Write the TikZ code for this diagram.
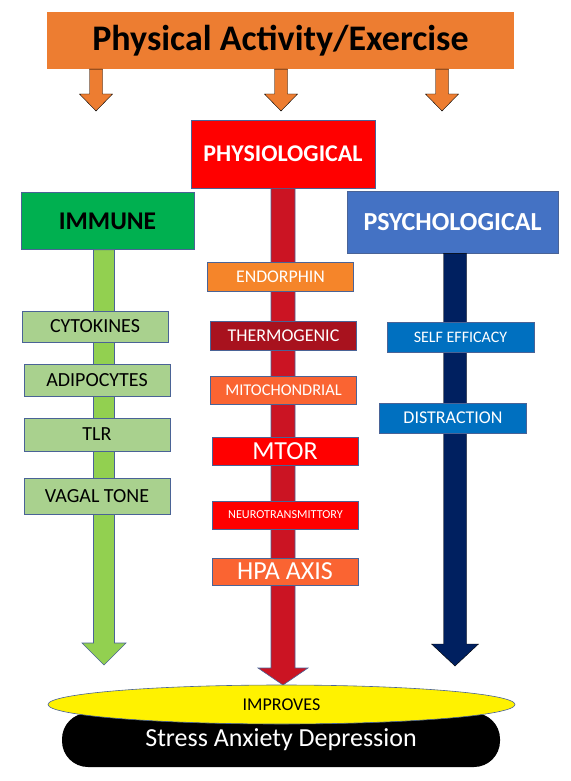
\documentclass[tikz,border=0pt]{standalone}
\usepackage{fontspec}
\setmainfont{Carlito}
\usepackage{tikz}
\usetikzlibrary{shapes.geometric,calc,positioning}
\usepackage{xcolor}
\definecolor{actOrange}{HTML}{ED7D31}
\definecolor{physRed}{HTML}{FF0000}
\definecolor{immGreen}{HTML}{00B050}
\definecolor{psyBlue}{HTML}{4472C4}
\definecolor{itemGreen}{HTML}{A9D18E}
\definecolor{shaftGreen}{HTML}{92D050}
\definecolor{shaftRed}{HTML}{CB1423}
\definecolor{shaftNavy}{HTML}{002060}
\definecolor{endoOrange}{HTML}{F5852A}
\definecolor{thermoRed}{HTML}{A8121E}
\definecolor{mitoOrange}{HTML}{FA6432}
\definecolor{selfBlue}{HTML}{0070C0}
\definecolor{boxEdge}{HTML}{4A6396}
\tikzstyle{header}=[draw=boxEdge, line width=0.8pt, inner sep=0pt]
\tikzstyle{item}=[draw=boxEdge, line width=0.8pt, inner sep=0pt, minimum width=146pt]
\tikzstyle{immitem}=[item, fill=itemGreen, text=black, font=\fontsize{20}{24}\selectfont]
\tikzstyle{physitem}=[item, text=white]
\tikzstyle{psyitem}=[item, fill=selfBlue, text=white, minimum width=147pt, minimum height=30pt]
\newcommand{\blockArrow}[6]{
	\draw[#1] ($(#3 |- #2)+(-#4,0)$) -- ($(#3)+(-#4,-#6)$) -- ($(#3)+(-#5,-#6)$) -- (#3)
		-- ($(#3)+(#5,-#6)$) -- ($(#3)+(#4,-#6)$) -- ($(#3 |- #2)+(#4,0)$) -- cycle;
}

\begin{document}
\begin{tikzpicture}[x=1pt, y=-1pt]
	\useasboundingbox (0,0) rectangle (570,781);
%
	\node[fill=actOrange, inner sep=0pt, minimum width=467pt, minimum height=57pt, font=\bfseries\fontsize{36}{42}\selectfont] (pa) at (280.5,40.5) {Physical Activity/Exercise};
	\coordinate (paL) at (96,111);
	\coordinate (paM) at (281,111);
	\coordinate (paR) at (442,111);
	\blockArrow{fill=actOrange}{pa.south}{paL}{6.5}{16.5}{17}
	\blockArrow{fill=actOrange}{pa.south}{paM}{6.5}{16.5}{17}
	\blockArrow{fill=actOrange}{pa.south}{paR}{6.5}{16.5}{17}
%
	\node[header, fill=physRed, text=white, minimum width=184pt, minimum height=68pt, font=\bfseries\fontsize{24}{28}\selectfont] (phys) at (283,154) {PHYSIOLOGICAL};
	\node[header, fill=immGreen, text=black, minimum width=173pt, minimum height=57pt, font=\bfseries\fontsize{25.5}{30}\selectfont] (immune) at (107.5,221) {IMMUNE};
	\node[header, fill=psyBlue, text=white, minimum width=211pt, minimum height=62pt, font=\bfseries\fontsize{26}{30}\selectfont] (psych) at (452.5,222) {PSYCHOLOGICAL};
%
	\coordinate (immtip) at (104,665);
	\coordinate (phystip) at (283,685);
	\coordinate (psytip) at (455,666);
	\blockArrow{fill=shaftGreen, draw=boxEdge, line width=0.6pt}{immune.south}{immtip}{10.5}{22}{22}
	\blockArrow{fill=shaftRed, draw=boxEdge, line width=0.6pt}{phys.south}{phystip}{12}{25}{17}
	\blockArrow{fill=shaftNavy}{psych.south}{psytip}{11.5}{23.5}{22}
%
	\node[immitem, minimum height=31pt] (cyto) at (95,326.5) {CYTOKINES};
	\node[immitem, minimum height=32pt] (adipo) at (97,380) {ADIPOCYTES};
	\node[immitem, minimum height=33pt] (tlr) at (97,434.5) {TLR};
	\node[immitem, minimum height=36pt] (vagal) at (97,496.5) {VAGAL TONE};
%
	\node[physitem, fill=endoOrange, minimum height=29pt, font=\fontsize{17.8}{21}\selectfont] (endo) at (280.5,277) {ENDORPHIN};
	\node[physitem, fill=thermoRed, minimum height=29pt, font=\fontsize{18}{21}\selectfont] (thermo) at (283.5,335.5) {THERMOGENIC};
	\node[physitem, fill=mitoOrange, minimum height=28pt, font=\fontsize{16.4}{19}\selectfont] (mito) at (283.5,390) {MITOCHONDRIAL};
	\node[physitem, fill=physRed, minimum height=28pt, font=\fontsize{26}{30}\selectfont] (mtor) at (285,451) {MTOR};
	\node[physitem, fill=physRed, minimum height=28pt, font=\fontsize{12.2}{14}\selectfont] (neuro) at (285.5,515) {NEUROTRANSMITTORY};
	\node[physitem, fill=mitoOrange, minimum height=27pt, font=\fontsize{26}{30}\selectfont] (hpa) at (285,571.5) {HPA AXIS};
%
	\node[psyitem, font=\fontsize{16}{19}\selectfont] (selfeff) at (460.5,337) {SELF EFFICACY};
	\node[psyitem, font=\fontsize{18}{21}\selectfont] (distr) at (453,418) {DISTRACTION};
%
	\node[fill=black, rounded corners=26pt, inner sep=0pt, minimum width=438pt, minimum height=54pt, text=white, font=\fontsize{26}{30}\selectfont] (sad) at (281,740) {\raisebox{-3pt}{Stress Anxiety Depression}};
	\node[ellipse, draw=boxEdge, line width=0.6pt, fill=yellow, inner sep=0pt, minimum width=467pt, minimum height=39pt, font=\fontsize{18}{21}\selectfont] (improves) at (281.5,704.5) {IMPROVES};
\end{tikzpicture}
\end{document}
